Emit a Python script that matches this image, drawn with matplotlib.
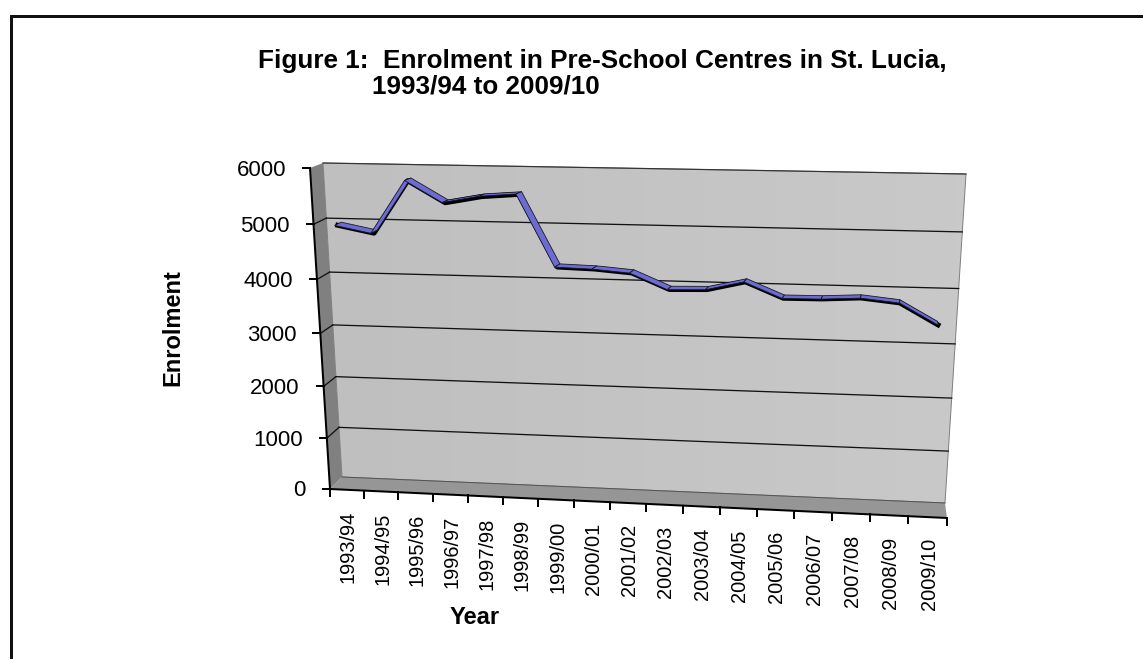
import numpy as np
import matplotlib
matplotlib.use("Agg")
import matplotlib.pyplot as plt
from matplotlib.colors import LinearSegmentedColormap
from matplotlib.patches import Polygon

plt.rcParams['font.family'] = ['Liberation Sans', 'DejaVu Sans']

years = ["1993/94", "1994/95", "1995/96", "1996/97", "1997/98", "1998/99", "1999/00",
         "2000/01", "2001/02", "2002/03", "2003/04", "2004/05", "2005/06", "2006/07",
         "2007/08", "2008/09", "2009/10"]
enrolment = [4960, 4830, 5780, 5400, 5520, 5570, 4290, 4270, 4215, 3935, 3950, 4105,
             3830, 3835, 3870, 3800, 3430]
y_ticks = [0, 1000, 2000, 3000, 4000, 5000, 6000]
Y_MAX = 6000

# the 3d box on the page, in pixels: bottom-left, bottom-right, top-right, top-left
FRONT = np.array([(330, 489), (947, 518), (968, 175), (310, 168)], float)
BACK = np.array([(342, 477), (945, 503), (966, 174), (323, 163)], float)


def homography(corners):
    src = [(0, 0), (1, 0), (1, 1), (0, 1)]
    rows, rhs = [], []
    for (u, v), (x, y) in zip(src, corners):
        rows.append([u, v, 1, 0, 0, 0, -u * x, -v * x])
        rows.append([0, 0, 0, u, v, 1, -u * y, -v * y])
        rhs += [x, y]
    return np.append(np.linalg.solve(np.array(rows), np.array(rhs)), 1).reshape(3, 3)


def project(cat, val, depth=0.5):
    # category position 0..n and value -> pixel, depth 0 is the front, 1 the back
    h = homography(FRONT + (BACK - FRONT) * depth)
    cat, val = np.atleast_1d(cat, val)
    p = h @ np.vstack([cat / len(years), val / Y_MAX, np.ones_like(cat, dtype=float)])
    return np.column_stack([p[0] / p[2], p[1] / p[2]])


W, H = 1143, 659
fig = plt.figure(figsize=(W / 100, H / 100), dpi=100)
ax = fig.add_axes([0, 0, 1, 1])
ax.axis('off')

n = len(years)
px = 72 / 100  # points per pixel

# page border, only top and left
ax.plot([W, 10.5, 10.5], [15.5, 15.5, H], color='#111111', lw=3 * px, solid_joinstyle='miter')

# back wall with a faint gradient, floor and side wall
wall = Polygon(project([0, n, n, 0], [0, 0, Y_MAX, Y_MAX], 1), closed=True,
               fc='none', ec='#808080', lw=1 * px, zorder=2)
ax.add_patch(wall)
wall_cmap = LinearSegmentedColormap.from_list('wall', ['#bfbfbf', '#c9c9c9'])
img = ax.imshow(np.linspace(0, 1, 64).reshape(1, -1), cmap=wall_cmap,
                extent=(323, 966, 503, 163), aspect='auto', zorder=1)
img.set_clip_path(wall)
floor = np.vstack([project([0, n], [0, 0], 0), project([n, 0], [0, 0], 1)])
ax.add_patch(Polygon(floor, closed=True, fc='#969696', ec='none', zorder=2))
side = np.vstack([project([0, 0], [0, Y_MAX], 0), project([0, 0], [Y_MAX, 0], 1)])
ax.add_patch(Polygon(side, closed=True, fc='#808080', ec='none', zorder=2))
ax.plot(*project([0, n], [0, 0], 1).T, color='#555555', lw=1 * px, zorder=3)
ax.plot(*project([0, n], [Y_MAX, Y_MAX], 1).T, color='#333333', lw=1.2 * px, zorder=3)

# gridlines go along the back wall and come forward along the side wall
for v in y_ticks[1:-1]:
    ax.plot(*project([0, n], [v, v], 1).T, color='#111111', lw=1.3 * px, zorder=3)
    ax.plot(*np.vstack([project(0, v, 0), project(0, v, 1)]).T, color='#111111', lw=1.3 * px, zorder=3)

# axis lines and ticks
ax.plot(*project([0, 0], [0, Y_MAX], 0).T, color='black', lw=2 * px, zorder=4)
ax.plot(*project([0, n], [0, 0], 0).T, color='black', lw=2 * px, zorder=4)
for v in y_ticks:
    x, y = project(0, v, 0)[0]
    ax.plot([x - 7, x], [y, y], color='black', lw=2 * px, zorder=4)
    ax.text(x - 24, y + 2, str(v), ha='right', va='center', fontsize=16)
for i in range(n + 1):
    x, y = project(i, 0, 0)[0]
    ax.plot([x, x], [y, y + 7], color='black', lw=2 * px, zorder=4)
for i, lab in enumerate(years):
    x, y = project(i + 0.5, 0, 0)[0]
    ax.text(x + 1.5, y + 21, lab, rotation=90, ha='center', va='top', fontsize=14.4)

# ribbon: dark underside first, then the blue top face of every segment
pos = np.arange(n) + 0.5
ax.plot(*(project(pos, enrolment, 0.5) + [0, 1.5]).T, color='black', lw=5 * px,
        solid_joinstyle='round', zorder=5)
for i in range(n - 1):
    cats, vals = pos[i:i + 2], enrolment[i:i + 2]
    top = np.vstack([project(cats, vals, 0.24), project(cats[::-1], vals[::-1], 0.76)])
    ax.add_patch(Polygon(top, closed=True, fc='#6c6cd0', ec='#141428', lw=0.8 * px,
                         joinstyle='round', zorder=6))

ax.text(258, 61, "Figure 1:  Enrolment in Pre-School Centres in St. Lucia,", fontsize=18.8,
        fontweight='bold', ha='left', va='center')
ax.text(372, 87, "1993/94 to 2009/10", fontsize=18.8, fontweight='bold', ha='left', va='center')
ax.text(173, 328, "Enrolment", rotation=90, fontsize=17, fontweight='bold', ha='center', va='center')
ax.text(475, 617, "Year", fontsize=17, fontweight='bold', ha='center', va='center')

ax.set_xlim(0, W)
ax.set_ylim(H, 0)
fig.savefig("out.png", dpi=100)
